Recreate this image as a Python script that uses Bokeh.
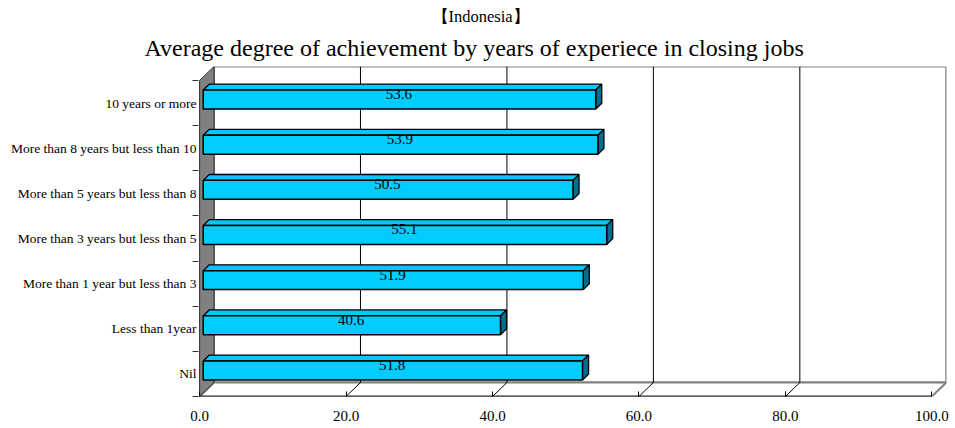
from bokeh.plotting import figure
from bokeh.models import FixedTicker, PrintfTickFormatter, Range1d, Title
from bokeh.embed import file_html
from bokeh.resources import INLINE
from bokeh.core.properties import value

categories = ["Nil", "Less than 1year", "More than 1 year but less than 3",
              "More than 3 years but less than 5", "More than 5 years but less than 8",
              "More than 8 years but less than 10", "10 years or more"]
values = [51.8, 40.6, 51.9, 55.1, 50.5, 53.9, 53.6]
x_ticks = [0, 20, 40, 60, 80, 100]
grid_vals = [20, 40, 60, 80]
title_main = "【Indonesia】"
title_sub = "Average degree of achievement by years of experiece in closing jobs"

FONT = "Liberation Serif"
DX, DY = 1.97, 0.31        # full depth offset in data units
D0, D1 = 0.25, 0.67        # bar depth span (fraction of depth)
HALF = 0.21                # half bar thickness
Y0 = -0.5
Y1 = len(categories) - 0.5
XMAX = x_ticks[-1]

p = figure(width=955, height=428,
           x_range=Range1d(-0.15, 102.0), y_range=Range1d(Y0, Y1 + DY),
           output_backend="svg", toolbar_location=None,
           min_border_left=198, min_border_right=9,
           min_border_top=66, min_border_bottom=32)
p.xgrid.visible = False
p.ygrid.visible = False
p.outline_line_color = None
p.background_fill_color = "white"

# back wall
p.patch([DX, XMAX + DX, XMAX + DX, DX], [Y0 + DY, Y0 + DY, Y1 + DY, Y1 + DY],
        fill_color="white", line_color="#808080", line_width=2)
# floor
p.patch([0, XMAX, XMAX + DX, DX], [Y0, Y0, Y0 + DY, Y0 + DY],
        fill_color="white", line_color="#808080", line_width=2)
# left wall
p.patch([0, DX, DX, 0], [Y0, Y0 + DY, Y1 + DY, Y1],
        fill_color="#808080", line_color="#303030", line_width=1)
# floor front edge
p.segment(x0=[0], y0=[Y0], x1=[XMAX], y1=[Y0], line_color="black", line_width=1.5)
# gridlines on back wall and floor
p.segment(x0=[g + DX for g in grid_vals], y0=[Y0 + DY] * len(grid_vals),
          x1=[g + DX for g in grid_vals], y1=[Y1 + DY] * len(grid_vals),
          line_color="black", line_width=1)
p.segment(x0=grid_vals, y0=[Y0] * len(grid_vals),
          x1=[g + DX for g in grid_vals], y1=[Y0 + DY] * len(grid_vals),
          line_color="black", line_width=1)

# bars
bx, by = (D1 - D0) * DX, (D1 - D0) * DY
ys = list(range(len(categories)))
top_xs, top_ys, side_xs, side_ys = [], [], [], []
for i, v in zip(ys, values):
    x0, x1 = D0 * DX, v + D0 * DX
    yb, yt = i - HALF + D0 * DY, i + HALF + D0 * DY
    top_xs.append([x0, x1, x1 + bx, x0 + bx])
    top_ys.append([yt, yt, yt + by, yt + by])
    side_xs.append([x1, x1 + bx, x1 + bx, x1])
    side_ys.append([yb, yb + by, yt + by, yt])
p.patches(top_xs, top_ys, fill_color="#00C8FA", line_color="black", line_width=1.3)
p.patches(side_xs, side_ys, fill_color="#006E8C", line_color="black", line_width=1.3)
p.hbar(y=[i + D0 * DY for i in ys], left=D0 * DX, right=[v + D0 * DX for v in values],
       height=2 * HALF, fill_color="#00CCFF", line_color="black", line_width=1.5)

p.text(x=[v / 2 + 0.4 for v in values], y=[i + 0.2 for i in ys],
       text=[f"{v:.1f}" for v in values],
       text_font=value(FONT), text_font_size="15px", text_color="black",
       text_align="center", text_baseline="middle")

# axes
p.xaxis.ticker = FixedTicker(ticks=x_ticks)
p.xaxis.formatter = PrintfTickFormatter(format="%.1f")
p.xaxis.axis_line_color = None
p.xaxis.major_tick_in = 5
p.xaxis.major_tick_out = 0
p.xaxis.minor_tick_line_color = None
p.xaxis.major_tick_line_color = "black"
p.xaxis.major_label_standoff = 14
p.xaxis.major_label_text_font = FONT
p.xaxis.major_label_text_font_size = "15px"
p.xaxis.major_label_text_color = "black"

p.yaxis.ticker = FixedTicker(ticks=ys, minor_ticks=[i - 0.5 for i in range(len(categories) + 1)])
p.yaxis.major_label_overrides = {i: c for i, c in enumerate(categories)}
p.yaxis.axis_line_color = None
p.yaxis.major_tick_in = 0
p.yaxis.major_tick_out = 0
p.yaxis.minor_tick_in = 0
p.yaxis.minor_tick_out = 6
p.yaxis.minor_tick_line_color = "#303030"
p.yaxis.major_label_standoff = -4
p.yaxis.major_label_text_font = FONT
p.yaxis.major_label_text_font_size = "13.5px"
p.yaxis.major_label_text_color = "black"

p.add_layout(Title(text=title_sub, align="left", offset=-54, text_font=FONT,
                   text_font_size="24px", text_font_style="normal", text_color="black",
                   standoff=12), "above")
p.add_layout(Title(text=title_main, align="left", offset=233, text_font=FONT,
                   text_font_size="16.5px", text_font_style="normal", text_color="black",
                   standoff=2), "above")

open("out.html", "w").write(file_html(p, INLINE))
